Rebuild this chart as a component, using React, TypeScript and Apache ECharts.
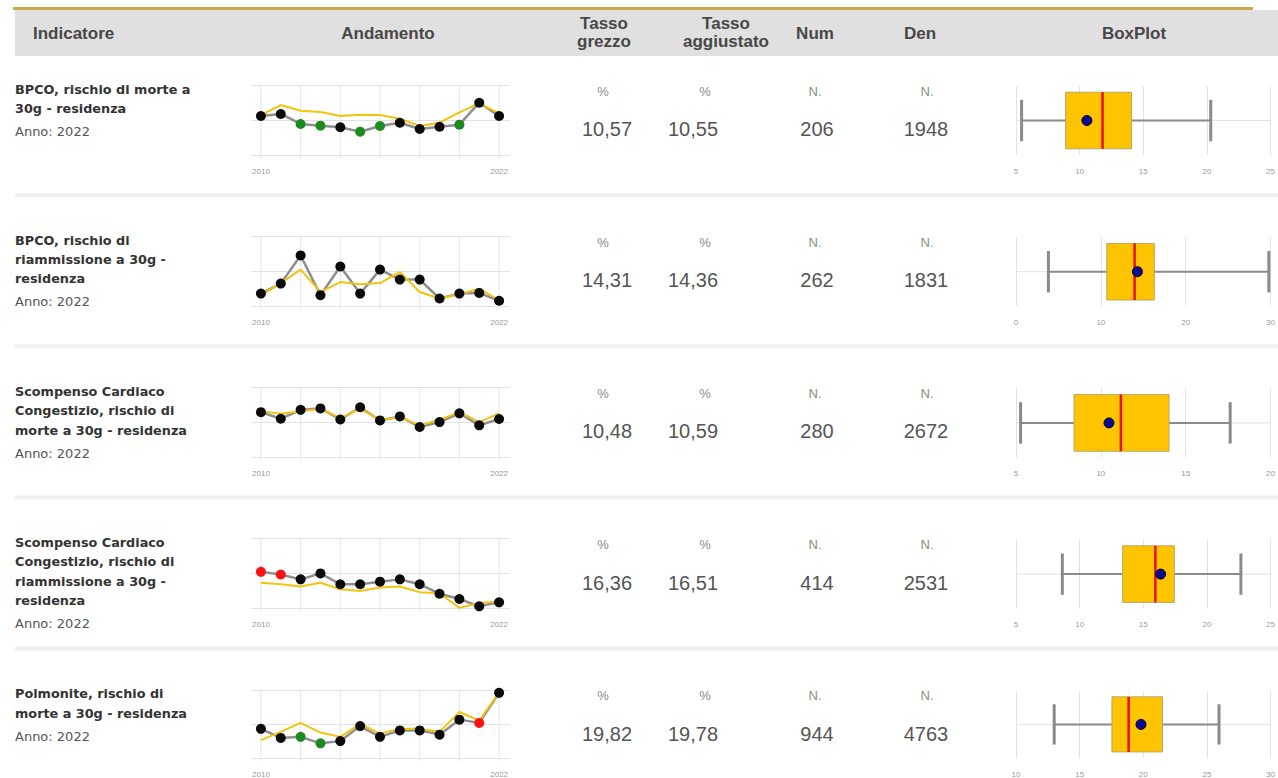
import React, { useEffect, useRef } from "react";
import * as echarts from "echarts";

// ---------- data ----------
const years = [2010, 2011, 2012, 2013, 2014, 2015, 2016, 2017, 2018, 2019, 2020, 2021, 2022];
const yearLabels = [2010, 2022];
const gridYears = [2010, 2012, 2014, 2016, 2018, 2020, 2022];

const headers = ["Indicatore", "Andamento", "Tasso", "grezzo", "Tasso", "aggiustato", "Num", "Den", "BoxPlot"];

const rowTitles = [
  ["BPCO, rischio di morte a", "30g - residenza"],
  ["BPCO, rischio di", "riammissione a 30g -", "residenza"],
  ["Scompenso Cardiaco", "Congestizio, rischio di", "morte a 30g - residenza"],
  ["Scompenso Cardiaco", "Congestizio, rischio di", "riammissione a 30g -", "residenza"],
  ["Polmonite, rischio di", "morte a 30g - residenza"],
];
const annoLabel = "Anno: 2022";

const tassoGrezzo = ["10,57", "14,31", "10,48", "16,36", "19,82"];
const tassoAggiustato = ["10,55", "14,36", "10,59", "16,51", "19,78"];
const numValues = ["206", "262", "280", "414", "944"];
const denValues = ["1948", "1831", "2672", "2531", "4763"];
const unitSymbols = ["%", "%", "N.", "N."];

// trend series (black/grey line = tasso grezzo, yellow = reference)
const crude1 = [10.57, 10.86, 9.43, 9.19, 8.96, 8.33, 9.14, 9.61, 8.71, 9.04, 9.33, 12.47, 10.57];
const ref1 = [10.71, 12.14, 11.33, 11.14, 10.57, 10.76, 10.71, 10.19, 9.14, 9.61, 11.1, 12.39, 10.96];
const flag1 = ["n", "n", "g", "g", "n", "g", "g", "n", "n", "n", "g", "n", "n"];

const crude2 = [14.72, 15.29, 16.9, 14.63, 16.27, 14.72, 16.09, 15.52, 15.52, 14.44, 14.72, 14.76, 14.31];
const ref2 = [14.63, 15.32, 16.09, 14.81, 15.38, 15.25, 15.32, 15.95, 14.81, 14.44, 14.68, 15.0, 14.34];
const flag2 = ["n", "n", "n", "n", "n", "n", "n", "n", "n", "n", "n", "n", "n"];

const crude3 = [11.46, 10.52, 11.8, 12.0, 10.42, 12.16, 10.28, 10.85, 9.34, 10.04, 11.3, 9.58, 10.48];
const ref3 = [11.6, 11.23, 11.6, 11.94, 10.6, 11.94, 10.38, 10.75, 9.58, 10.38, 11.46, 10.04, 11.3];
const flag3 = ["n", "n", "n", "n", "n", "n", "n", "n", "n", "n", "n", "n", "n"];

const crude4 = [18.1, 17.95, 17.67, 18.01, 17.39, 17.39, 17.54, 17.67, 17.39, 16.85, 16.55, 16.13, 16.36];
const ref4 = [17.48, 17.39, 17.26, 17.48, 17.11, 17.01, 17.2, 17.26, 16.94, 16.88, 16.04, 16.32, 16.41];
const flag4 = ["r", "r", "n", "n", "n", "n", "n", "n", "n", "n", "n", "n", "n"];

const crude5 = [17.71, 17.18, 17.24, 16.86, 16.99, 17.87, 17.24, 17.62, 17.62, 17.37, 18.25, 18.06, 19.82];
const ref5 = [17.05, 17.53, 18.06, 17.49, 17.24, 18.0, 17.43, 17.71, 17.71, 17.53, 18.7, 18.19, 19.85];
const flag5 = ["n", "n", "g", "g", "n", "n", "n", "n", "n", "n", "n", "r", "n"];

const crudeSeries = [crude1, crude2, crude3, crude4, crude5];
const refSeries = [ref1, ref2, ref3, ref4, ref5];
const flagSeries = [flag1, flag2, flag3, flag4, flag5];

const trendMin = [5, 14, 5, 16, 16];
const trendMax = [15, 18, 15, 20, 20];
const trendStep = [5, 2, 5, 2, 2];

// box plots: [min whisker, Q1, median, Q3, max whisker]
const boxStats = [
  [5.44, 8.9, 11.8, 14.08, 20.3],
  [3.82, 10.7, 13.98, 16.3, 29.8],
  [5.27, 8.42, 11.18, 14.02, 17.62],
  [8.64, 13.38, 15.95, 17.44, 22.67],
  [13.0, 17.54, 18.85, 21.51, 25.95],
];
const boxPoint = [10.57, 14.31, 10.48, 16.36, 19.82];
const boxMin = [5, 0, 5, 5, 10];
const boxMax = [25, 30, 20, 25, 30];
const boxStep = [5, 10, 5, 5, 5];

// ---------- layout ----------
const ROW = 151.2;
const SPARK_TOP = 85;
const SPARK_H = 70;
const flagColor: Record<string, string> = { n: "#0a0a0a", g: "#1c8a1c", r: "#ff1010" };

const headFont = "bold 17px 'Liberation Sans Narrow', 'Arial Narrow', 'Liberation Sans', Arial, sans-serif";
const titleFont = "bold 12.8px 'DejaVu Sans', Verdana, sans-serif";
const annoFont = "13px 'DejaVu Sans', Verdana, sans-serif";
const valueFont = "20px 'Liberation Sans', Arial, sans-serif";
const unitFont = "13px 'Liberation Sans', Arial, sans-serif";

function txt(x: number, y: number, text: string, font: string, fill: string, align = "left") {
  return {
    type: "text",
    x,
    y,
    silent: true,
    style: { text, font, fill, textAlign: align, textVerticalAlign: "middle", align, verticalAlign: "middle" },
  };
}

function buildOption() {
  const grid: any[] = [];
  const xAxis: any[] = [];
  const yAxis: any[] = [];
  const series: any[] = [];
  const graphic: any[] = [];

  // header
  graphic.push({ type: "rect", shape: { x: 15, y: 10, width: 1263, height: 46 }, style: { fill: "#e0e0e0" }, silent: true });
  graphic.push({ type: "rect", shape: { x: 13, y: 7, width: 1240, height: 3 }, style: { fill: "#c8ab48" }, silent: true });
  const hc = "#474747";
  graphic.push(txt(33, 33, headers[0], headFont, hc));
  graphic.push(txt(388, 33, headers[1], headFont, hc, "center"));
  graphic.push(txt(604, 23, headers[2], headFont, hc, "center"));
  graphic.push(txt(604, 41, headers[3], headFont, hc, "center"));
  graphic.push(txt(726, 23, headers[4], headFont, hc, "center"));
  graphic.push(txt(726, 41, headers[5], headFont, hc, "center"));
  graphic.push(txt(815, 33, headers[6], headFont, hc, "center"));
  graphic.push(txt(920, 33, headers[7], headFont, hc, "center"));
  graphic.push(txt(1134, 33, headers[8], headFont, hc, "center"));

  const unitX = [603, 705, 815, 927];
  const valX = [607, 693, 817, 926];

  for (let i = 0; i < 5; i++) {
    const off = i * ROW;
    // separators
    if (i < 4) {
      graphic.push({ type: "rect", shape: { x: 15, y: 193 + off, width: 1263, height: 4 }, style: { fill: "#f0f0f0" }, silent: true });
    }
    // titles
    const lines = rowTitles[i];
    lines.forEach((l, k) => graphic.push(txt(15, 89 + off + k * 19.3, l, titleFont, "#333")));
    graphic.push(txt(15, 89 + off + (lines.length - 1) * 19.3 + 23, annoLabel, annoFont, "#555"));
    // numbers
    const vals = [tassoGrezzo[i], tassoAggiustato[i], numValues[i], denValues[i]];
    for (let c = 0; c < 4; c++) {
      graphic.push(txt(unitX[c], 91 + off, unitSymbols[c], unitFont, "#8a8a8a", "center"));
      graphic.push(txt(valX[c], 129 + off, vals[c], valueFont, "#555", "center"));
    }

    // ---- sparkline grid ----
    const gs = grid.length;
    grid.push({ left: 251, top: SPARK_TOP + off, width: 259, height: SPARK_H });
    xAxis.push({
      gridIndex: gs,
      type: "value",
      min: 2009.5,
      max: 2022.55,
      axisLine: { show: false },
      axisTick: { show: false },
      splitLine: { show: false },
      axisLabel: {
        customValues: yearLabels,
        fontSize: 8,
        color: "#9a9a9a",
        margin: 12,
        formatter: (v: number) => String(v),
      },
    });
    yAxis.push({
      gridIndex: gs,
      type: "value",
      min: trendMin[i],
      max: trendMax[i],
      interval: trendStep[i],
      axisLine: { show: false },
      axisTick: { show: false },
      axisLabel: { show: false },
      splitLine: { lineStyle: { color: "#e2e2e2", width: 1 } },
    });
    const tmin = trendMin[i];
    const tmax = trendMax[i];
    series.push({
      type: "custom",
      xAxisIndex: gs,
      yAxisIndex: gs,
      silent: true,
      z: 1,
      encode: { x: 0 },
      data: gridYears.map((y) => [y]),
      renderItem: (params: any, api: any) => {
        const x = api.value(0);
        const a = api.coord([x, tmin]);
        const b = api.coord([x, tmax]);
        return {
          type: "line",
          shape: { x1: a[0], y1: a[1] + 3, x2: b[0], y2: b[1] },
          style: { stroke: "#e4e4e4", lineWidth: 1 },
        };
      },
    });
    series.push({
      type: "line",
      xAxisIndex: gs,
      yAxisIndex: gs,
      data: years.map((y, k) => [y, crudeSeries[i][k]]),
      symbol: "none",
      lineStyle: { color: "#8e8e8e", width: 2.5 },
      z: 2,
      silent: true,
    });
    series.push({
      type: "line",
      xAxisIndex: gs,
      yAxisIndex: gs,
      data: years.map((y, k) => [y, refSeries[i][k]]),
      symbol: "none",
      lineStyle: { color: "#f2c40c", width: 2 },
      z: 3,
      silent: true,
    });
    series.push({
      type: "scatter",
      xAxisIndex: gs,
      yAxisIndex: gs,
      symbolSize: 10,
      z: 4,
      silent: true,
      itemStyle: { opacity: 1 },
      data: years.map((y, k) => ({
        value: [y, crudeSeries[i][k]],
        itemStyle: { color: flagColor[flagSeries[i][k]], opacity: 1 },
      })),
    });

    // ---- boxplot grid ----
    const gb = grid.length;
    grid.push({ left: 1016, top: SPARK_TOP + off + 1, width: 259, height: 69 });
    xAxis.push({
      gridIndex: gb,
      type: "value",
      min: boxMin[i],
      max: boxMax[i],
      interval: boxStep[i],
      axisLine: { show: false },
      axisTick: { show: false },
      axisLabel: { fontSize: 8, color: "#9a9a9a", margin: 12 },
      splitLine: { lineStyle: { color: "#e2e2e2", width: 1 } },
    });
    yAxis.push({ gridIndex: gb, type: "value", min: -1, max: 1, show: false });
    const bmin = boxMin[i];
    const bmax = boxMax[i];
    series.push({
      type: "custom",
      xAxisIndex: gb,
      yAxisIndex: gb,
      silent: true,
      clip: false,
      z: 2,
      encode: { x: [0, 1, 2, 3, 4] },
      data: [boxStats[i]],
      renderItem: (params: any, api: any) => {
        const lo = api.value(0);
        const q1 = api.value(1);
        const med = api.value(2);
        const q3 = api.value(3);
        const hi = api.value(4);
        const p = (x: number, y: number) => api.coord([x, y]);
        const c0 = p(bmin, 0);
        const c1 = p(bmax, 0);
        const cy = c0[1];
        const boxTop = p(q1, 0.82)[1];
        const boxBot = p(q1, -0.82)[1];
        const capTop = p(lo, 0.6)[1];
        const capBot = p(lo, -0.6)[1];
        const xlo = p(lo, 0)[0];
        const xq1 = p(q1, 0)[0];
        const xmed = p(med, 0)[0];
        const xq3 = p(q3, 0)[0];
        const xhi = p(hi, 0)[0];
        const grey = "#8a8a8a";
        return {
          type: "group",
          children: [
            { type: "line", shape: { x1: c0[0], y1: cy, x2: c1[0], y2: cy }, style: { stroke: "#e2e2e2", lineWidth: 1 } },
            { type: "line", shape: { x1: xlo, y1: cy, x2: xhi, y2: cy }, style: { stroke: grey, lineWidth: 2 } },
            { type: "line", shape: { x1: xlo, y1: capTop, x2: xlo, y2: capBot }, style: { stroke: grey, lineWidth: 3 } },
            { type: "line", shape: { x1: xhi, y1: capTop, x2: xhi, y2: capBot }, style: { stroke: grey, lineWidth: 3 } },
            {
              type: "rect",
              shape: { x: xq1, y: boxTop, width: xq3 - xq1, height: boxBot - boxTop },
              style: { fill: "#ffc400", stroke: "#b9a468", lineWidth: 1 },
            },
            { type: "line", shape: { x1: xmed, y1: boxTop, x2: xmed, y2: boxBot }, style: { stroke: "#e8100a", lineWidth: 2.5 } },
          ],
        };
      },
    });
    series.push({
      type: "scatter",
      xAxisIndex: gb,
      yAxisIndex: gb,
      symbolSize: 10,
      z: 5,
      silent: true,
      data: [[boxPoint[i], 0]],
      itemStyle: { color: "#0a0a8c", borderColor: "#000033", borderWidth: 1, opacity: 1 },
    });
  }

  return {
    animation: false,
    backgroundColor: "#ffffff",
    grid,
    xAxis,
    yAxis,
    series,
    graphic: { elements: graphic },
  };
}

export default function App() {
  const ref = useRef<HTMLDivElement>(null);
  useEffect(() => {
    if (!ref.current) return;
    document.body.style.margin = "0";
    const chart = echarts.init(ref.current, undefined, { renderer: "svg" });
    chart.setOption(buildOption() as any);
    return () => chart.dispose();
  }, []);
  return (
    <div
      ref={ref}
      style={{ position: "absolute", left: 0, top: 0, width: 1278, height: 778, background: "#fff" }}
    />
  );
}
